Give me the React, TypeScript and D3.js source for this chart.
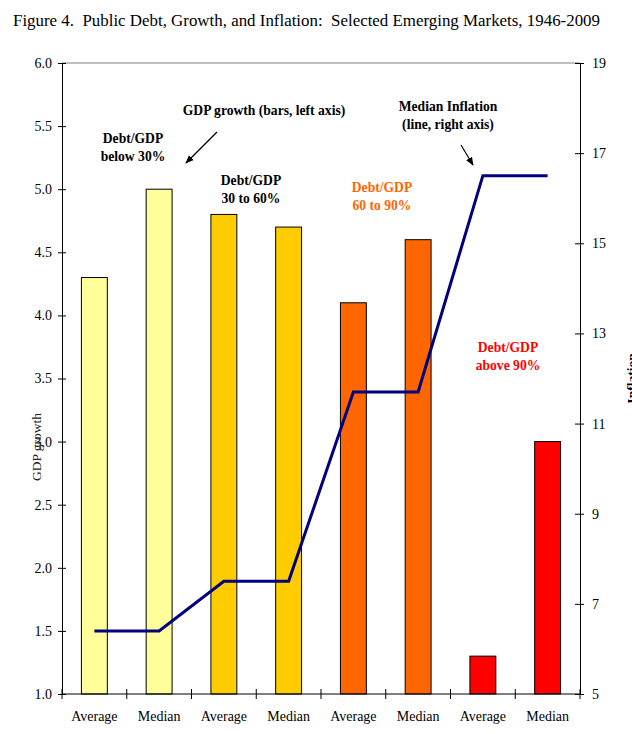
import React, { useEffect, useRef } from 'react'
import * as d3 from 'd3'

const categories = ['Average', 'Median', 'Average', 'Median', 'Average', 'Median', 'Average', 'Median']
const gdpGrowth = [4.3, 5.0, 4.8, 4.7, 4.1, 4.6, 1.3, 3.0]
const medianInflation = [6.4, 6.4, 7.5, 7.5, 11.7, 11.7, 16.5, 16.5]
const barColors = ['#FFFF99', '#FFFF99', '#FFCC00', '#FFCC00', '#FF6600', '#FF6600', '#FF0000', '#FF0000']
const leftTicks = [1.0, 1.5, 2.0, 2.5, 3.0, 3.5, 4.0, 4.5, 5.0, 5.5, 6.0]
const rightTicks = [5, 7, 9, 11, 13, 15, 17, 19]

const W = 632
const H = 734
const FONT = '"Liberation Serif", "Times New Roman", serif'

const App: React.FC = () => {
  const ref = useRef<SVGSVGElement>(null)

  useEffect(() => {
    const svg = d3.select(ref.current)
    svg.selectAll('*').remove()

    const margin = { top: 63, right: 52, bottom: 40, left: 62 }
    const width = W - margin.left - margin.right
    const height = H - margin.top - margin.bottom

    const idx = categories.map((_, i) => String(i))
    const x = d3.scaleBand().domain(idx).range([0, width]).padding(0)
    const yL = d3.scaleLinear().domain([1, 6]).range([height, 0])
    const yR = d3.scaleLinear().domain([5, 19]).range([height, 0])

    // title
    svg
      .append('text')
      .attr('x', 13)
      .attr('y', 26)
      .style('font-family', FONT)
      .style('font-size', '16.9px')
      .style('white-space', 'pre')
      .text('Figure 4.  Public Debt, Growth, and Inflation:  Selected Emerging Markets, 1946-2009')

    const g = svg.append('g').attr('transform', `translate(${margin.left},${margin.top})`)

    // top border of plot area
    g.append('line')
      .attr('x1', 0)
      .attr('x2', width)
      .attr('y1', 0)
      .attr('y2', 0)
      .attr('stroke', '#808080')

    // bars
    const bw = x.bandwidth() * 0.4
    g.selectAll('.bar')
      .data(gdpGrowth)
      .enter()
      .append('rect')
      .attr('x', (_, i) => x(String(i))! + x.bandwidth() / 2 - bw / 2)
      .attr('y', (d) => yL(d))
      .attr('width', bw)
      .attr('height', (d) => height - yL(d))
      .attr('fill', (_, i) => barColors[i])
      .attr('stroke', '#000')
      .attr('stroke-width', 1)

    // inflation line
    const line = d3
      .line<number>()
      .x((_, i) => x(String(i))! + x.bandwidth() / 2)
      .y((d) => yR(d))
    g.append('path')
      .datum(medianInflation)
      .attr('d', line)
      .attr('fill', 'none')
      .attr('stroke', '#000080')
      .attr('stroke-width', 3)

    const styleAxis = (ax: d3.Selection<SVGGElement, unknown, null, undefined>) => {
      ax.select('.domain').attr('stroke', '#000')
      ax.selectAll('.tick text')
        .style('font-family', FONT)
        .style('font-size', '14px')
        .attr('fill', '#000')
      ax.selectAll('.tick line').attr('stroke', '#000')
    }

    // left axis
    const axL = g
      .append('g')
      .call(d3.axisLeft(yL).tickValues(leftTicks).tickFormat(d3.format('.1f')).tickSizeOuter(0).tickSize(4).tickPadding(6))
    styleAxis(axL)
    axL.selectAll('.tick line').attr('x1', 4)

    // right axis
    const axR = g
      .append('g')
      .attr('transform', `translate(${width},0)`)
      .call(d3.axisRight(yR).tickValues(rightTicks).tickFormat(d3.format('d')).tickSizeOuter(0).tickSize(4).tickPadding(8))
    styleAxis(axR)
    axR.selectAll('.tick line').attr('x1', -5)

    // bottom axis with boundary ticks
    const axB = g
      .append('g')
      .attr('transform', `translate(0,${height})`)
      .call(d3.axisBottom(x).tickFormat((d) => categories[+d]).tickSize(0).tickPadding(17))
    styleAxis(axB)
    axB.select('.domain').attr('d', `M0,0H${width}`)
    axB.selectAll('.bound')
      .data(d3.range(categories.length + 1))
      .enter()
      .append('line')
      .attr('x1', (i) => i * x.step())
      .attr('x2', (i) => i * x.step())
      .attr('y1', -5)
      .attr('y2', 5)
      .attr('stroke', '#000')

    // axis titles
    svg
      .append('text')
      .attr('transform', 'translate(41,447) rotate(-90)')
      .attr('text-anchor', 'middle')
      .style('font-family', FONT)
      .style('font-size', '13.5px')
      .attr('fill', '#222')
      .text('GDP growth')
    svg
      .append('text')
      .attr('transform', `translate(636,${margin.top + height / 2}) rotate(-90)`)
      .attr('text-anchor', 'middle')
      .style('font-family', FONT)
      .style('font-size', '13.5px')
      .style('font-weight', 'bold')
      .attr('fill', '#000')
      .text('Inflation')

    // annotations
    const notes: { lines: string[]; x: number; y: number; color: string }[] = [
      { lines: ['GDP growth (bars, left axis)'], x: 264, y: 115, color: '#000' },
      { lines: ['Debt/GDP', 'below 30%'], x: 133, y: 143, color: '#000' },
      { lines: ['Debt/GDP', '30 to 60%'], x: 251, y: 185, color: '#000' },
      { lines: ['Debt/GDP', '60 to 90%'], x: 382, y: 192, color: '#FF6600' },
      { lines: ['Median Inflation', '(line, right axis)'], x: 448, y: 111, color: '#000' },
      { lines: ['Debt/GDP', 'above 90%'], x: 508, y: 352, color: '#FF0000' },
    ]
    notes.forEach((n) => {
      const t = svg
        .append('text')
        .attr('text-anchor', 'middle')
        .style('font-family', FONT)
        .style('font-size', '13.6px')
        .style('font-weight', 'bold')
        .attr('fill', n.color)
      n.lines.forEach((l, i) => {
        t.append('tspan').attr('x', n.x).attr('y', n.y + i * 17.5).text(l)
      })
    })

    // arrows
    const defs = svg.append('defs')
    defs
      .append('marker')
      .attr('id', 'arrow')
      .attr('viewBox', '0 0 10 10')
      .attr('refX', 9)
      .attr('refY', 5)
      .attr('markerWidth', 7)
      .attr('markerHeight', 7)
      .attr('orient', 'auto')
      .append('path')
      .attr('d', 'M0,1L10,5L0,9Z')
      .attr('fill', '#000')
    const arrows = [
      [217, 132, 186, 163],
      [461, 145, 473, 165],
    ]
    arrows.forEach(([x1, y1, x2, y2]) => {
      svg
        .append('line')
        .attr('x1', x1)
        .attr('y1', y1)
        .attr('x2', x2)
        .attr('y2', y2)
        .attr('stroke', '#000')
        .attr('stroke-width', 1.2)
        .attr('marker-end', 'url(#arrow)')
    })
  }, [])

  return (
    <div>
      <style>{`body{margin:0;background:#fff}`}</style>
      <svg ref={ref} width={W} height={H} style={{ display: 'block', background: '#fff' }} />
    </div>
  )
}

export default App
